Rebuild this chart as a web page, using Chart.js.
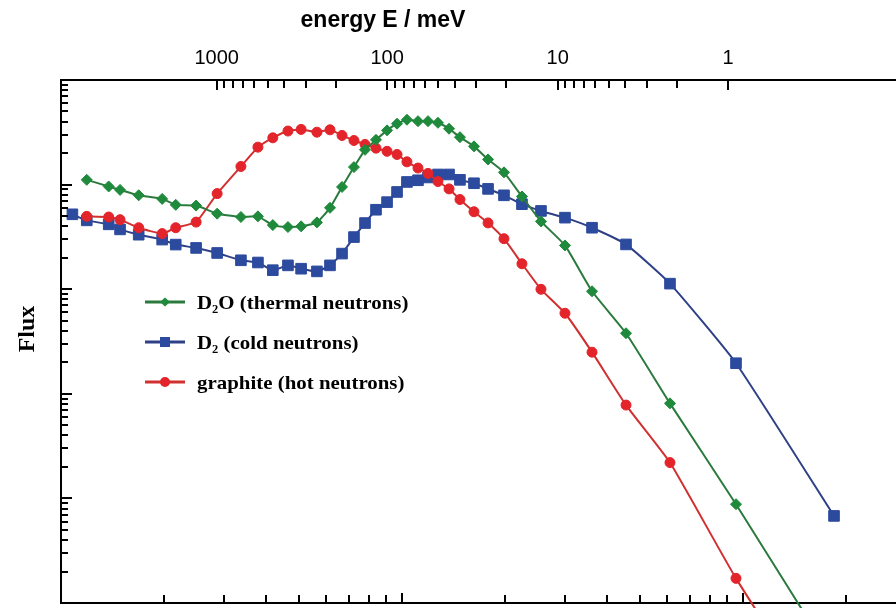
<!DOCTYPE html>
<html>
<head>
<meta charset="utf-8">
<script src="https://cdn.jsdelivr.net/npm/chart.js@4.4.1/dist/chart.umd.min.js"></script>
<style>
html,body{margin:0;padding:0;background:#fff;}
#wrap{position:relative;width:896px;height:608px;}
canvas{display:block;}
</style>
</head>
<body>
<div id="wrap"><canvas id="c" width="896" height="608"></canvas></div>
<script>
// ---- data ----
// neutron wavelength of each sample point, in Å (bottom axis, logarithmic)
const wavelength = [0.108, 0.119, 0.138, 0.149, 0.169, 0.198, 0.217, 0.249, 0.287, 0.337,
  0.378, 0.418, 0.463, 0.506, 0.563, 0.615, 0.667, 0.723, 0.779, 0.839,
  0.904, 0.967, 1.034, 1.114, 1.192, 1.275, 1.374, 1.479, 1.626, 1.788,
  1.991, 2.248, 2.556, 3.006, 3.608, 4.539, 6.108, 9.539, 18.49];

// flux, arbitrary units (log axis, no labels in the reference)
const d2oFlux = [null, 11100, 9600, 8900, 7900, 7300, 6400, 6300, 5270, 4900,
  4970, 4100, 3930, 3990, 4350, 6000, 9500, 14700, 21500, 26800,
  33000, 38200, 41700, 40400, 40400, 39000, 34200, 28400, 23200, 17400,
  13100, 7700, 4450, 2620, 955, 379, 81, 8.8, 0.28];

const d2Flux = [5200, 4550, 4170, 3730, 3320, 2980, 2670, 2480, 2220, 1890,
  1800, 1520, 1690, 1570, 1480, 1690, 2190, 3150, 4290, 5750,
  6800, 8500, 10600, 11000, 11700, 12500, 12500, 11100, 10300, 9100,
  7900, 6500, 5600, 4830, 3870, 2680, 1130, 196, 6.8];

const graphiteFlux = [null, 4970, 4900, 4620, 3870, 3400, 3870, 4380, 8200, 14900,
  22800, 28000, 32500, 33700, 31700, 33400, 29500, 26400, 24200, 22300,
  20800, 19400, 16500, 14400, 12800, 10700, 9100, 7200, 5500, 4300,
  3040, 1750, 998, 589, 250, 78, 22, 1.72, 0.06];

const seriesNames = ['D\u2082O (thermal neutrons)', 'D\u2082 (cold neutrons)', 'graphite (hot neutrons)'];
const energyTickLabels = [1000, 100, 10, 1];
const topTitle = 'energy E / meV';
const yTitle = 'Flux';

// axis ranges
const LAMBDA_MIN = 0.1, LAMBDA_MAX = 28.1;   // Å
const FLUX_MIN = 1, FLUX_MAX = 1e5;
const E_PER_INV_LAMBDA2 = 81.81;             // E[meV] = 81.81 / λ²[Å]

// ---- helpers ----
function logTicks(min, max) {
  const out = [];
  const n0 = Math.floor(Math.log10(min)), n1 = Math.ceil(Math.log10(max));
  for (let n = n0; n <= n1; n++) {
    for (let d = 1; d <= 9; d++) {
      const v = d * Math.pow(10, n);
      if (v >= min * (1 - 1e-9) && v <= max * (1 + 1e-9)) out.push(v);
    }
  }
  return out;
}
const isDecade = v => Math.abs(Math.log10(v) - Math.round(Math.log10(v))) < 1e-9;
const toPoints = arr => wavelength.map((x, i) => ({x: x, y: arr[i]})).filter(p => p.y !== null);
const noPad = s => { s.paddingLeft = 0; s.paddingRight = 0; s.paddingTop = 0; s.paddingBottom = 0; };

const GREEN = '#1f8a3c', GREEN_LINE = '#2b7a3d';
const BLUE = '#2c4a9e', BLUE_LINE = '#2e4187';
const RED = '#e3242b', RED_LINE = '#d0302f';

const datasets = [
  {label: seriesNames[0], data: toPoints(d2oFlux), borderColor: GREEN_LINE, backgroundColor: GREEN,
   pointBackgroundColor: GREEN, pointBorderColor: GREEN, pointStyle: 'rectRot', pointRadius: 5.5,
   pointBorderWidth: 1, borderWidth: 2, tension: 0.15, order: 1},
  {label: seriesNames[1], data: toPoints(d2Flux), borderColor: BLUE_LINE, backgroundColor: BLUE,
   pointBackgroundColor: BLUE, pointBorderColor: BLUE, pointStyle: 'rect', pointRadius: 7.5,
   pointBorderWidth: 1, borderWidth: 2, tension: 0.15, order: 3},
  {label: seriesNames[2], data: toPoints(graphiteFlux), borderColor: RED_LINE, backgroundColor: RED,
   pointBackgroundColor: RED, pointBorderColor: RED, pointStyle: 'circle', pointRadius: 5,
   pointBorderWidth: 1, borderWidth: 2, tension: 0.15, order: 2}
];
datasets.forEach(d => { d.clip = {left: 0, top: 0, right: 0, bottom: 6}; });

// ---- decorations: inward tick marks, titles, legend ----
const decor = {
  id: 'decor',
  afterDraw(chart) {
    const ctx = chart.ctx, a = chart.chartArea;
    ctx.save();
    ctx.strokeStyle = '#000';
    ctx.lineWidth = 2;
    const seg = (x1, y1, x2, y2) => { ctx.beginPath(); ctx.moveTo(x1, y1); ctx.lineTo(x2, y2); ctx.stroke(); };

    const ys = chart.scales.y;
    ys.ticks.forEach(t => {
      const p = Math.round(ys.getPixelForValue(t.value));
      seg(a.left, p, a.left + (isDecade(t.value) ? 11 : 7), p);
    });
    const xb = chart.scales.x;
    xb.ticks.forEach(t => {
      const p = Math.round(xb.getPixelForValue(t.value));
      seg(p, a.bottom, p, a.bottom - (isDecade(t.value) ? 10 : 8));
    });
    const xt = chart.scales.xTop;
    xt.ticks.forEach(t => {
      const p = Math.round(xt.getPixelForValue(t.value));
      seg(p, a.top, p, a.top + (isDecade(t.value) ? 10 : 8));
    });

    // titles
    ctx.fillStyle = '#000';
    ctx.textAlign = 'center';
    ctx.textBaseline = 'middle';
    ctx.font = 'bold 23px "Liberation Sans", Arial, sans-serif';
    ctx.fillText(topTitle, 383, 21);
    ctx.save();
    ctx.translate(28, 329);
    ctx.rotate(-Math.PI / 2);
    ctx.font = 'bold 24px "Liberation Serif", "Times New Roman", serif';
    ctx.fillText(yTitle, 0, 0);
    ctx.restore();

    // legend (order: D2O, D2, graphite)
    const rows = [0, 1, 2];
    rows.forEach((di, r) => {
      const ds = chart.data.datasets[di];
      const y = 302 + r * 40;
      ctx.strokeStyle = ds.borderColor;
      ctx.lineWidth = 3;
      seg(145, y, 185, y);
      ctx.fillStyle = ds.pointBackgroundColor;
      ctx.beginPath();
      if (ds.pointStyle === 'rectRot') {
        ctx.moveTo(165 - 5, y); ctx.lineTo(165, y - 4.5); ctx.lineTo(165 + 5, y); ctx.lineTo(165, y + 4.5); ctx.closePath();
      } else if (ds.pointStyle === 'rect') {
        ctx.rect(165 - 5, y - 5, 10, 10);
      } else {
        ctx.arc(165, y, 5, 0, Math.PI * 2);
      }
      ctx.fill();
      ctx.fillStyle = '#000';
      ctx.textAlign = 'left';
      ctx.textBaseline = 'alphabetic';
      ctx.font = 'bold 19px "Liberation Serif", "Times New Roman", serif';
      ctx.save();
      ctx.translate(197, y + 7);
      ctx.scale(1.1, 1);
      ctx.fillText(ds.label, 0, 0);
      ctx.restore();
    });
    ctx.restore();
  }
};

new Chart(document.getElementById('c'), {
  type: 'line',
  data: {datasets: datasets},
  options: {
    responsive: false,
    devicePixelRatio: 1,
    animation: false,
    layout: {padding: 0, autoPadding: false},
    plugins: {legend: {display: false}, tooltip: {enabled: false}, title: {display: false}},
    scales: {
      x: {
        type: 'logarithmic', position: 'bottom', min: LAMBDA_MIN, max: LAMBDA_MAX,
        grid: {display: false, drawTicks: false},
        border: {display: true, width: 2, color: '#000'},
        ticks: {display: false, autoSkip: false},
        afterBuildTicks: s => { s.ticks = logTicks(LAMBDA_MIN, LAMBDA_MAX).map(v => ({value: v})); },
        afterFit: s => { s.height = 5; noPad(s); }
      },
      xTop: {
        type: 'logarithmic', position: 'top', reverse: true,
        min: E_PER_INV_LAMBDA2 / (LAMBDA_MAX * LAMBDA_MAX),
        max: E_PER_INV_LAMBDA2 / (LAMBDA_MIN * LAMBDA_MIN),
        grid: {display: false, drawTicks: false},
        border: {display: true, width: 2, color: '#000'},
        ticks: {
          autoSkip: false, maxRotation: 0, padding: 10, color: '#000',
          font: {family: '"Liberation Sans", Arial, sans-serif', size: 20},
          callback: v => energyTickLabels.some(e => Math.abs(e - v) < 1e-6) ? String(Math.round(v)) : ''
        },
        afterBuildTicks: s => {
          const lo = Math.min(...energyTickLabels), hi = Math.max(...energyTickLabels);
          s.ticks = logTicks(lo, hi).map(v => ({value: v}));
        },
        afterFit: s => { s.height = 80; noPad(s); }
      },
      y: {
        type: 'logarithmic', position: 'left', min: FLUX_MIN, max: FLUX_MAX,
        grid: {display: false, drawTicks: false},
        border: {display: true, width: 2, color: '#000'},
        ticks: {display: false, autoSkip: false},
        afterBuildTicks: s => { s.ticks = logTicks(FLUX_MIN, FLUX_MAX).map(v => ({value: v})); },
        afterFit: s => { s.width = 61; noPad(s); }
      }
    }
  },
  plugins: [decor]
});
</script>
</body>
</html>
